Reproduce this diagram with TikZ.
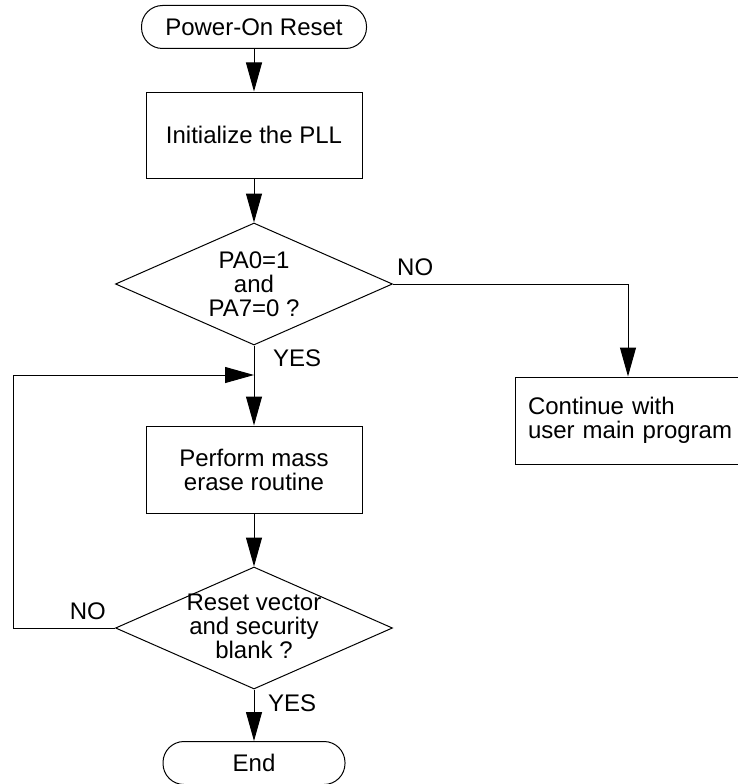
\documentclass[tikz,border=0pt]{standalone}
\usepackage{fontspec}
\setmainfont{Liberation Sans}
\usetikzlibrary{shapes.geometric,arrows.meta,positioning}

\tikzset{
  term/.style={draw,line width=1pt,rounded corners=21pt,minimum height=43pt,inner sep=0pt},
  proc/.style={draw,line width=1pt,minimum width=216pt,minimum height=86pt,align=center,inner sep=0pt},
  decide/.style={draw,diamond,line width=1pt,minimum width=277pt,minimum height=122pt,inner sep=0pt,
    label={[align=center,inner sep=0pt]center:#1}},
  lbl/.style={inner sep=0pt},
  flow/.style={line width=1pt,-{Triangle[length=29pt,width=16pt]}}
}

\begin{document}
\begin{tikzpicture}[x=1pt,y=-1pt,font=\fontsize{24}{24}\selectfont]
\useasboundingbox (0,0) rectangle (737,784);
\node[term,minimum width=225pt] (start) at (254,27) {Power-On Reset};
\node[proc] (init) at (254,135) {Initialize the PLL};
\node[decide={PA0=1\\and\\PA7=0 ?}] (dec1) at (254,284) {};
\coordinate (merge) at (254,375);
\node[proc,minimum height=87pt] (erase) at (254,469.5) {Perform mass\\erase routine};
\node[decide={\\[-10pt]Reset vector\\and security\\blank ?}] (dec2) at (254,628) {};
\node[term,minimum width=182pt] (stop) at (254,763) {End};
\node[draw,line width=1pt,text width=214pt,align=left,inner xsep=13pt,minimum height=87pt] (cont) at (635,420.5) {Continue with\\user main program};
\coordinate (nocorner) at (628,284);
\coordinate (back) at (13,375);
\node[lbl,above right=8pt and 4pt of dec1.east] (no1) {NO};
\node[lbl,below right=4.5pt and 19pt of dec1.south] (yes1) {YES};
\node[lbl,above left=8pt and 9pt of dec2.west] (no2) {NO};
\node[lbl,below right=5.5pt and 14pt of dec2.south] (yes2) {YES};
\draw[flow] (start) -- (init);
\draw[flow] (init) -- (dec1);
\draw[line width=1pt] (dec1.south) -- (merge);
\draw[flow] (merge) -- (erase);
\draw[flow] (erase) -- (dec2);
\draw[flow] (dec2) -- (stop);
\draw[flow] (dec1.east) -- (nocorner) -- (cont.north -| nocorner);
\draw[flow] (dec2.west) -| (back) -- (merge);
\end{tikzpicture}
\end{document}
